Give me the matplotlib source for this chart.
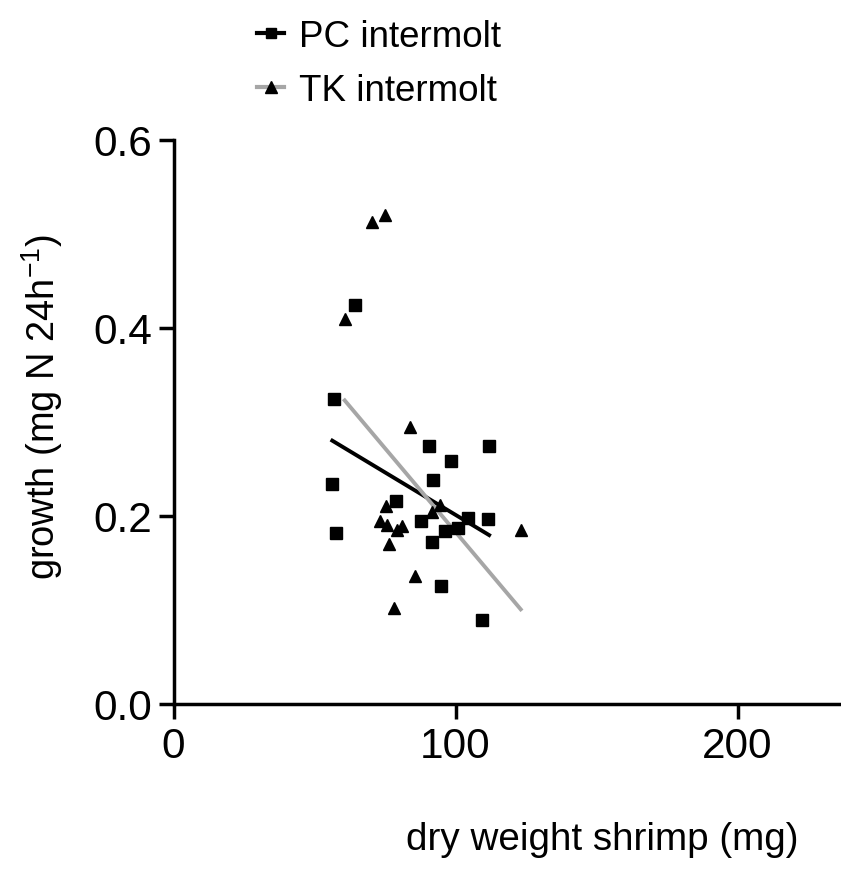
import numpy as np
import matplotlib
matplotlib.use("Agg")
import matplotlib.pyplot as plt
from matplotlib.lines import Line2D

plt.rcParams['font.family'] = ['Liberation Sans', 'DejaVu Sans']
plt.rcParams['mathtext.fontset'] = 'custom'
plt.rcParams['mathtext.rm'] = 'Liberation Sans'
plt.rcParams['mathtext.it'] = 'Liberation Sans'
plt.rcParams['mathtext.default'] = 'regular'

# PC intermolt data (dry weight mg, growth mg N 24h-1)
pc_x = [57.0, 90.7, 111.9, 98.4, 56.3, 91.9, 78.9, 87.7, 104.3, 111.4,
        101.0, 96.1, 57.5, 91.5, 94.8, 109.5, 64.2]
pc_y = [0.3245, 0.2748, 0.2741, 0.2588, 0.2344, 0.2386, 0.216, 0.195, 0.198, 0.197,
        0.187, 0.1837, 0.1816, 0.1727, 0.1252, 0.0897, 0.4245]

# TK intermolt data
tk_x = [83.8, 75.2, 73.2, 75.8, 79.3, 80.9, 91.7, 94.4, 123.1, 76.4,
        85.5, 78.3, 70.3, 75.1, 60.7]
tk_y = [0.2944, 0.2103, 0.1947, 0.1904, 0.1854, 0.1897, 0.2046, 0.2117, 0.1854, 0.1702,
        0.1359, 0.1024, 0.5124, 0.5202, 0.4096]

# linear regression lines (slope, intercept) as drawn in the chart
pc_fit = (-0.001807, 0.3819)
tk_fit = (-0.003562, 0.5392)

x_ticks = [0, 100, 200]
y_ticks = [0.0, 0.2, 0.4, 0.6]
y_ticklabels = ["0.0", "0.2", "0.4", "0.6"]

fig = plt.figure(figsize=(8.41, 8.70), dpi=100)
W, H = 841, 870
ax = fig.add_axes([173.5 / W, (H - 705) / H, (840 - 173.5) / W, (705 - 141) / H])

# regression lines
px = np.array([min(pc_x), max(pc_x)])
tx = np.array([min(tk_x), max(tk_x)])
ax.plot(px, pc_fit[0] * px + pc_fit[1], color='black', lw=2.8, zorder=2)
ax.plot(tx, tk_fit[0] * tx + tk_fit[1], color='#a6a6a6', lw=2.8, zorder=2)

ax.plot(pc_x, pc_y, linestyle='none', marker='s', ms=8.5, color='black', zorder=3)
ax.plot(tk_x, tk_y, linestyle='none', marker='^', ms=9, color='black', zorder=3)

ax.set_xlim(0, 236.3)
ax.set_ylim(0, 0.6)
ax.set_xticks(x_ticks)
ax.set_yticks(y_ticks)
ax.set_yticklabels(y_ticklabels)
for s in ['top', 'right']:
    ax.spines[s].set_visible(False)
for s in ['left', 'bottom']:
    ax.spines[s].set_linewidth(2.5)
ax.tick_params(axis='both', direction='out', length=11, width=2.5, labelsize=30.5)
ax.tick_params(axis='y', pad=4.5)
ax.tick_params(axis='x', pad=5)

fig.text(602 / W, 1 - 840 / H, "dry weight shrimp (mg)", fontsize=27.8, ha='center', va='center')
fig.text(42 / W, 1 - 407 / H, "growth (mg N 24h$^{-1}$)", fontsize=27.4, rotation=90,
         ha='center', va='center')

h1 = Line2D([], [], color='black', lw=3, marker='s', ms=7.5)
h2 = Line2D([], [], color='#a6a6a6', lw=3, marker='^', ms=8, mfc='black', mec='black')
fig.legend([h1, h2], ["PC intermolt", "TK intermolt"], loc='upper left',
           bbox_to_anchor=(231 / W, 1 + 6 / H), frameon=False, fontsize=26.5,
           handlelength=0.75, handletextpad=0.4, labelspacing=0.52, borderpad=0.2)

fig.savefig("out.png", dpi=100)
